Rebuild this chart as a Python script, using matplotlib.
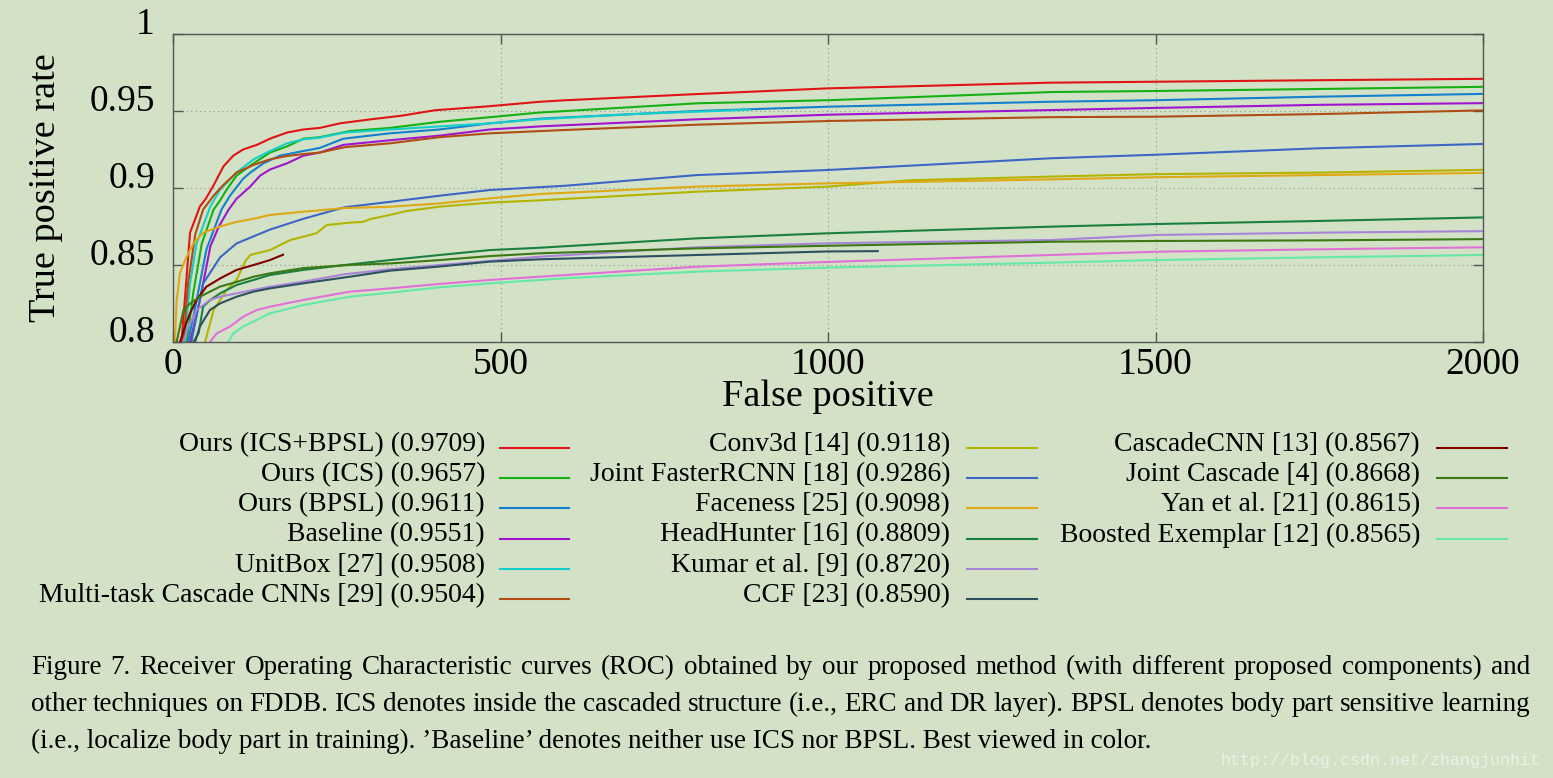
import matplotlib
matplotlib.use('Agg')
import matplotlib.pyplot as plt
from matplotlib.lines import Line2D

plt.rcParams['font.family'] = ['Liberation Serif', 'DejaVu Serif']

W, H = 1553, 778
bg = '#d3e2c7'

# ---- data (false positives, true positive rate) ----
red_fp = [10, 13, 18, 26, 34, 41, 50, 61, 77, 92, 107, 128, 148, 174, 199, 224, 255, 300, 350, 400, 480, 560, 600, 800, 1000, 1340, 1500, 1750, 2000]
red_tpr = [0.79, 0.80, 0.827, 0.871, 0.880, 0.888, 0.893, 0.901, 0.914, 0.921, 0.925, 0.928, 0.932, 0.936, 0.938, 0.939, 0.942, 0.9445, 0.947, 0.9505, 0.953, 0.956, 0.957, 0.961, 0.9647, 0.9684, 0.969, 0.970, 0.9709]

green_fp = [18, 21, 31, 44, 62, 72, 82, 97, 123, 148, 174, 199, 224, 270, 331, 407, 484, 560, 800, 1000, 1340, 1500, 1750, 2000]
green_tpr = [0.79, 0.80, 0.832, 0.864, 0.886, 0.892, 0.899, 0.908, 0.916, 0.923, 0.927, 0.932, 0.933, 0.937, 0.939, 0.943, 0.946, 0.949, 0.955, 0.957, 0.9623, 0.963, 0.9643, 0.9657]

bpsl_fp = [20, 23, 36, 51, 74, 87, 107, 118, 138, 163, 199, 224, 260, 331, 407, 484, 560, 800, 1000, 1340, 1500, 1750, 2000]
bpsl_tpr = [0.79, 0.80, 0.827, 0.86, 0.886, 0.895, 0.906, 0.910, 0.916, 0.921, 0.924, 0.926, 0.932, 0.9355, 0.938, 0.942, 0.945, 0.950, 0.9528, 0.956, 0.957, 0.9593, 0.9611]

base_fp = [22, 26, 41, 57, 70, 85, 97, 118, 133, 148, 174, 199, 224, 260, 331, 407, 484, 560, 800, 1000, 1340, 1500, 1750, 2000]
base_tpr = [0.79, 0.80, 0.827, 0.862, 0.875, 0.886, 0.893, 0.901, 0.908, 0.912, 0.916, 0.921, 0.923, 0.928, 0.931, 0.934, 0.938, 0.940, 0.9446, 0.9476, 0.9506, 0.952, 0.954, 0.9551]

unit_fp = [15, 18, 26, 36, 57, 72, 97, 123, 148, 174, 199, 224, 262, 331, 407, 484, 560, 700, 880]
unit_tpr = [0.79, 0.80, 0.838, 0.864, 0.888, 0.899, 0.910, 0.9186, 0.924, 0.929, 0.9316, 0.9327, 0.936, 0.938, 0.940, 0.942, 0.9446, 0.948, 0.9508]

mtc_fp = [13, 16, 23, 34, 46, 62, 77, 97, 123, 148, 174, 199, 224, 262, 331, 407, 484, 600, 800, 1000, 1340, 1500, 1750, 2000]
mtc_tpr = [0.79, 0.80, 0.838, 0.870, 0.886, 0.895, 0.902, 0.910, 0.915, 0.9186, 0.9208, 0.922, 0.923, 0.9265, 0.929, 0.933, 0.9355, 0.9377, 0.9411, 0.9435, 0.946, 0.9463, 0.948, 0.9504]

conv_fp = [45, 49, 62, 82, 97, 110, 118, 148, 179, 219, 235, 270, 290, 300, 331, 356, 407, 484, 560, 800, 1000, 1125, 1340, 1500, 1750, 2000]
conv_tpr = [0.79, 0.80, 0.8208, 0.8338, 0.8403, 0.8522, 0.8565, 0.8597, 0.8662, 0.8706, 0.876, 0.8775, 0.878, 0.8797, 0.8825, 0.885, 0.8879, 0.8905, 0.892, 0.8976, 0.9009, 0.905, 0.9074, 0.909, 0.910, 0.9118]

jfr_fp = [25, 28, 46, 72, 97, 148, 199, 262, 331, 407, 484, 600, 800, 1000, 1340, 1500, 1750, 2000]
jfr_tpr = [0.79, 0.80, 0.838, 0.855, 0.864, 0.873, 0.880, 0.8875, 0.891, 0.895, 0.8987, 0.9015, 0.9084, 0.9117, 0.9193, 0.9216, 0.9258, 0.9286]

face_fp = [1, 3, 5.6, 10.7, 18.3, 31, 46, 72, 97, 123, 148, 199, 262, 331, 407, 484, 560, 800, 1000, 1340, 1500, 1750, 2000]
face_tpr = [0.79, 0.801, 0.827, 0.845, 0.853, 0.864, 0.871, 0.875, 0.878, 0.880, 0.8825, 0.8846, 0.887, 0.8878, 0.890, 0.8933, 0.8961, 0.9009, 0.903, 0.9056, 0.907, 0.9084, 0.9098]

hh_fp = [29, 31, 39, 46, 57, 72, 97, 123, 148, 199, 262, 331, 407, 484, 560, 800, 1000, 1340, 1500, 1750, 2000]
hh_tpr = [0.79, 0.80, 0.8056, 0.8229, 0.8273, 0.8316, 0.837, 0.8403, 0.8435, 0.8468, 0.85, 0.8532, 0.8565, 0.8597, 0.8612, 0.8673, 0.8706, 0.8749, 0.8766, 0.8786, 0.8809]

kum_fp = [13, 15.8, 23.4, 36, 56.5, 72, 97, 123, 148, 199, 262, 331, 407, 484, 560, 800, 1000, 1340, 1500, 1750, 2000]
kum_tpr = [0.79, 0.80, 0.81, 0.8208, 0.8273, 0.8294, 0.8316, 0.8338, 0.8359, 0.8392, 0.844, 0.8472, 0.85, 0.8526, 0.8554, 0.8615, 0.8641, 0.8662, 0.8695, 0.871, 0.872]

ccf_fp = [31, 33.6, 41, 56.5, 72, 97, 123, 148, 199, 270, 331, 407, 484, 560, 800, 1000, 1076]
ccf_tpr = [0.79, 0.80, 0.81, 0.8208, 0.8251, 0.8294, 0.8327, 0.8348, 0.8381, 0.8424, 0.8463, 0.849, 0.8522, 0.8537, 0.8565, 0.8588, 0.859]

ccnn_fp = [8, 10.7, 18.3, 26, 36, 51, 72, 97, 123, 148, 168]
ccnn_tpr = [0.79, 0.80, 0.81, 0.8186, 0.8273, 0.8359, 0.8413, 0.8468, 0.85, 0.8532, 0.8567]

jc_fp = [4, 5.6, 16, 26, 41, 72, 97, 123, 148, 199, 270, 331, 407, 484, 560, 800, 1000, 1340, 1500, 1750, 2000]
jc_tpr = [0.79, 0.80, 0.8208, 0.825, 0.8294, 0.836, 0.839, 0.8424, 0.8446, 0.848, 0.85, 0.851, 0.8532, 0.8558, 0.8576, 0.8608, 0.8625, 0.8651, 0.8656, 0.866, 0.8668]

yan_fp = [55, 56.5, 66.7, 87, 107, 128, 148, 199, 270, 331, 407, 484, 600, 800, 1000, 1340, 1500, 1750, 2000]
yan_tpr = [0.79, 0.80, 0.8056, 0.81, 0.8164, 0.8208, 0.8229, 0.8273, 0.8327, 0.8348, 0.8377, 0.8403, 0.8435, 0.8489, 0.852, 0.8565, 0.8586, 0.8602, 0.8615]

be_fp = [83, 84.5, 92, 107, 128, 148, 199, 270, 331, 407, 484, 600, 800, 1000, 1340, 1500, 1750, 2000]
be_tpr = [0.79, 0.80, 0.8056, 0.81, 0.8143, 0.8186, 0.824, 0.8294, 0.832, 0.8355, 0.8381, 0.8414, 0.8457, 0.8483, 0.8515, 0.8532, 0.855, 0.8565]

names = ['Ours (ICS+BPSL)', 'Ours (ICS)', 'Ours (BPSL)', 'Baseline', 'UnitBox [27]',
         'Multi-task Cascade CNNs [29]', 'Conv3d [14]', 'Joint FasterRCNN [18]', 'Faceness [25]',
         'HeadHunter [16]', 'Kumar et al. [9]', 'CCF [23]', 'CascadeCNN [13]', 'Joint Cascade [4]',
         'Yan et al. [21]', 'Boosted Exemplar [12]']
scores = [0.9709, 0.9657, 0.9611, 0.9551, 0.9508, 0.9504, 0.9118, 0.9286, 0.9098,
          0.8809, 0.8720, 0.8590, 0.8567, 0.8668, 0.8615, 0.8565]
colors = ['#e01414', '#14b014', '#1480d0', '#a014d0', '#14d0c8', '#b04c14', '#b4b400', '#3c66c4',
          '#e0a814', '#1a8040', '#a884d8', '#2c5060', '#800000', '#3c7814', '#e070d8', '#64e8a8']
curves = [(red_fp, red_tpr), (green_fp, green_tpr), (bpsl_fp, bpsl_tpr), (base_fp, base_tpr),
          (unit_fp, unit_tpr), (mtc_fp, mtc_tpr), (conv_fp, conv_tpr), (jfr_fp, jfr_tpr),
          (face_fp, face_tpr), (hh_fp, hh_tpr), (kum_fp, kum_tpr), (ccf_fp, ccf_tpr),
          (ccnn_fp, ccnn_tpr), (jc_fp, jc_tpr), (yan_fp, yan_tpr), (be_fp, be_tpr)]

xticks = [0, 500, 1000, 1500, 2000]
yticks = [0.8, 0.85, 0.9, 0.95, 1.0]
ytick_labels = ['0.8', '0.85', '0.9', '0.95', '1']

caption = [
    "Figure 7. Receiver Operating Characteristic curves (ROC) obtained by our proposed method (with different proposed components) and",
    "other techniques on FDDB. ICS denotes inside the cascaded structure (i.e., ERC and DR layer). BPSL denotes body part sensitive learning",
    "(i.e., localize body part in training). \u2019Baseline\u2019 denotes neither use ICS nor BPSL. Best viewed in color.",
]

fig = plt.figure(figsize=(W / 100, H / 100), dpi=100, facecolor=bg)
ax = fig.add_axes([173 / W, 1 - 342 / H, 1310 / W, 308 / H])
ax.set_facecolor(bg)

for (fp, tpr), c in zip(curves, colors):
    ax.plot(fp, tpr, color=c, lw=1.5, solid_joinstyle='miter')

ax.set_xlim(0, 2000)
ax.set_ylim(0.8, 1.0)
ax.set_xticks(xticks)
ax.set_yticks(yticks)
ax.set_yticklabels(ytick_labels)
ax.grid(True, linestyle=(0, (1, 3)), color='#8a9688', linewidth=0.8)
ax.tick_params(direction='in', length=7, width=1, color='#555555', top=True, right=True,
               labelsize=27, colors='#555555', labelcolor='black')
ax.tick_params(axis='y', pad=13)
ax.tick_params(axis='x', pad=4)
for lab in ax.get_yticklabels():
    lab.set_verticalalignment('baseline')
for s in ax.spines.values():
    s.set_color('#555555')
    s.set_linewidth(1)

ax.set_xlabel('False positive', fontsize=27.5)
ax.xaxis.set_label_coords(0.5, (342 - 380) / 308)
ax.set_ylabel('True positive rate', fontsize=27.5, va='center')
ax.yaxis.set_label_coords((46 - 173) / 1310, 0.5)

# legend: three columns, text right-aligned, sample line after it
col_text_x = [485, 950, 1420]
col_line_x = [(500, 569), (967, 1037), (1437, 1507)]
col_of = [0] * 6 + [1] * 6 + [2] * 4
row_of = list(range(6)) + list(range(6)) + list(range(4))
for name, sc, c, col, row in zip(names, scores, colors, col_of, row_of):
    ly = 448 + 30.2 * row
    fig.text(col_text_x[col] / W, 1 - (ly + 3) / H, '%s (%.4f)' % (name, sc),
             ha='right', va='baseline', fontsize=20)
    x0, x1 = col_line_x[col]
    fig.add_artist(Line2D([x0 / W, x1 / W], [1 - ly / H, 1 - ly / H],
                          transform=fig.transFigure, color=c, lw=1.5))

# caption, first two lines justified
renderer = fig.canvas.get_renderer()
left, right = 31, 1530
baselines = [674, 711, 748]
for i, line in enumerate(caption):
    yb = 1 - baselines[i] / H
    if i == len(caption) - 1:
        fig.text(left / W, yb, line, ha='left', va='baseline', fontsize=19.5)
        continue
    words = line.split(' ')
    txts = [fig.text(0, yb, w_, ha='left', va='baseline', fontsize=19.5) for w_ in words]
    widths = [t.get_window_extent(renderer).width for t in txts]
    gap = (right - left - sum(widths)) / (len(words) - 1)
    x = left
    for t, wd in zip(txts, widths):
        t.set_x(x / W)
        x += wd + gap

fig.text(1540 / W, 1 - 765 / H, 'http://blog.csdn.net/zhangjunhit', ha='right', va='baseline',
         fontsize=12, family=['Liberation Mono', 'DejaVu Sans Mono'], color='#eaf1e6')

fig.savefig('out.png', dpi=100, facecolor=bg)
